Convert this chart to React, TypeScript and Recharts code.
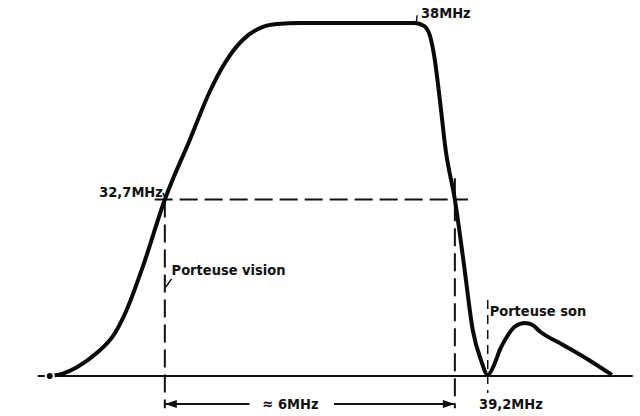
import { ComposedChart, Line, XAxis, YAxis, ReferenceLine, ReferenceDot } from "recharts"

// frequency position (MHz, as drawn) and relative response (%)
const freq = [
  30.32, 30.59, 30.88, 31.29, 31.67, 31.91, 32.25, 32.7, 33.22, 33.63, 33.98, 34.31, 34.73, 35.02,
  35.49, 36.53, 37.87, 38.06, 38.18, 38.27, 38.39, 38.51, 38.7, 38.89, 39.07, 39.24, 39.38, 39.51,
  39.63, 39.78, 39.94, 40.15, 40.3, 40.46, 40.94, 41.43, 41.95,
]
const response = [
  0, 0.7, 2.5, 6.5, 12.2, 18.7, 31.2, 50, 67, 80.6, 89.5, 95.2, 98.9, 99.7,
  100, 100, 100, 99.2, 96.6, 90.9, 78.2, 64, 50, 31.4, 13, 4.5, 0.3, 3.1,
  7.4, 11.2, 14, 15, 14.5, 12.6, 8.8, 4.9, 0.3,
]

const visionCarrier = 32.7
const cornerFreq = 38
const soundCarrier = 39.2
const bandEdge = 38.7
const bandLabel = "≈ 6MHz"

const data = freq.map((f, i) => ({ f, amp: response[i] }))

const FONT = "'DejaVu Sans Condensed', 'DejaVu Sans', sans-serif"

const Note = (props: any) => (
  <text
    x={props.cx}
    y={props.cy}
    textAnchor={props.anchor ?? "start"}
    dominantBaseline="central"
    fontSize={14.5}
    fontWeight={700}
    fontFamily={FONT}
    fill="#111"
  >
    {props.text}
  </text>
)

const Arrow = (props: any) => {
  const { cx, cy, dir } = props
  const d = dir === "left" ? 12 : -12
  return <polygon points={`${cx},${cy} ${cx + d},${cy - 4} ${cx + d},${cy + 4}`} fill="#111" />
}

export default function App() {
  const dash = { stroke: "#111", strokeWidth: 2, strokeDasharray: "18 7" }
  return (
    <div style={{ position: "absolute", left: 0, top: 0, background: "#fff" }}>
      <ComposedChart width={640} height={416} data={data} margin={{ top: 0, right: 0, bottom: 0, left: 0 }}>
        <XAxis dataKey="f" type="number" domain={[29.29, 42.53]} hide allowDataOverflow />
        <YAxis type="number" domain={[-11.33, 106.52]} hide allowDataOverflow />

        {/* baseline */}
        <ReferenceLine segment={[{ x: 30.07, y: 0 }, { x: 42.38, y: 0 }]} stroke="#111" strokeWidth={2} />

        {/* 50 % level and band limits */}
        <ReferenceLine segment={[{ x: 32.49, y: 50 }, { x: 38.97, y: 50 }]} {...dash} />
        <ReferenceLine segment={[{ x: visionCarrier, y: 50 }, { x: visionCarrier, y: -9.1 }]} {...dash} />
        <ReferenceLine segment={[{ x: bandEdge, y: 56 }, { x: bandEdge, y: -9.1 }]} {...dash} />
        <ReferenceLine
          segment={[{ x: 39.38, y: 21.5 }, { x: 39.38, y: -4.8 }]}
          stroke="#111"
          strokeWidth={1.5}
          strokeDasharray="9 6"
        />

        {/* 6 MHz dimension */}
        <ReferenceLine segment={[{ x: visionCarrier, y: -7.9 }, { x: 34.45, y: -7.9 }]} stroke="#111" strokeWidth={2} />
        <ReferenceLine segment={[{ x: 36.2, y: -7.9 }, { x: bandEdge, y: -7.9 }]} stroke="#111" strokeWidth={2} />
        <ReferenceDot x={visionCarrier} y={-7.9} shape={(p: any) => <Arrow {...p} dir="left" />} />
        <ReferenceDot x={bandEdge} y={-7.9} shape={(p: any) => <Arrow {...p} dir="right" />} />

        {/* leaders */}
        <ReferenceLine segment={[{ x: 32.66, y: 51.9 }, { x: 32.72, y: 50 }]} stroke="#111" strokeWidth={1.5} />
        <ReferenceLine segment={[{ x: 32.84, y: 27.5 }, { x: 32.72, y: 25.2 }]} stroke="#111" strokeWidth={1.5} />
        <ReferenceLine segment={[{ x: 37.9, y: 99.8 }, { x: 37.92, y: 102.2 }]} stroke="#111" strokeWidth={1.5} />

        <Line
          type="monotone"
          dataKey="amp"
          stroke="#0a0a0a"
          strokeWidth={4}
          dot={false}
          strokeLinecap="butt"
          strokeLinejoin="round"
          isAnimationActive={false}
        />

        <ReferenceDot x={cornerFreq} y={102.8} shape={(p: any) => <Note {...p} text="38MHz" />} />
        <ReferenceDot x={32.66} y={52.1} shape={(p: any) => <Note {...p} text="32,7MHz" anchor="end" />} />
        <ReferenceDot x={32.84} y={30} shape={(p: any) => <Note {...p} text="Porteuse vision" />} />
        <ReferenceDot x={39.42} y={18.4} shape={(p: any) => <Note {...p} text="Porteuse son" />} />
        <ReferenceDot x={35.3} y={-7.9} shape={(p: any) => <Note {...p} text={bandLabel} anchor="middle" />} />
        <ReferenceDot x={39.86} y={-7.9} shape={(p: any) => <Note {...p} text={`${String(soundCarrier).replace(".", ",")}MHz`} anchor="middle" />} />
      </ComposedChart>
    </div>
  )
}
